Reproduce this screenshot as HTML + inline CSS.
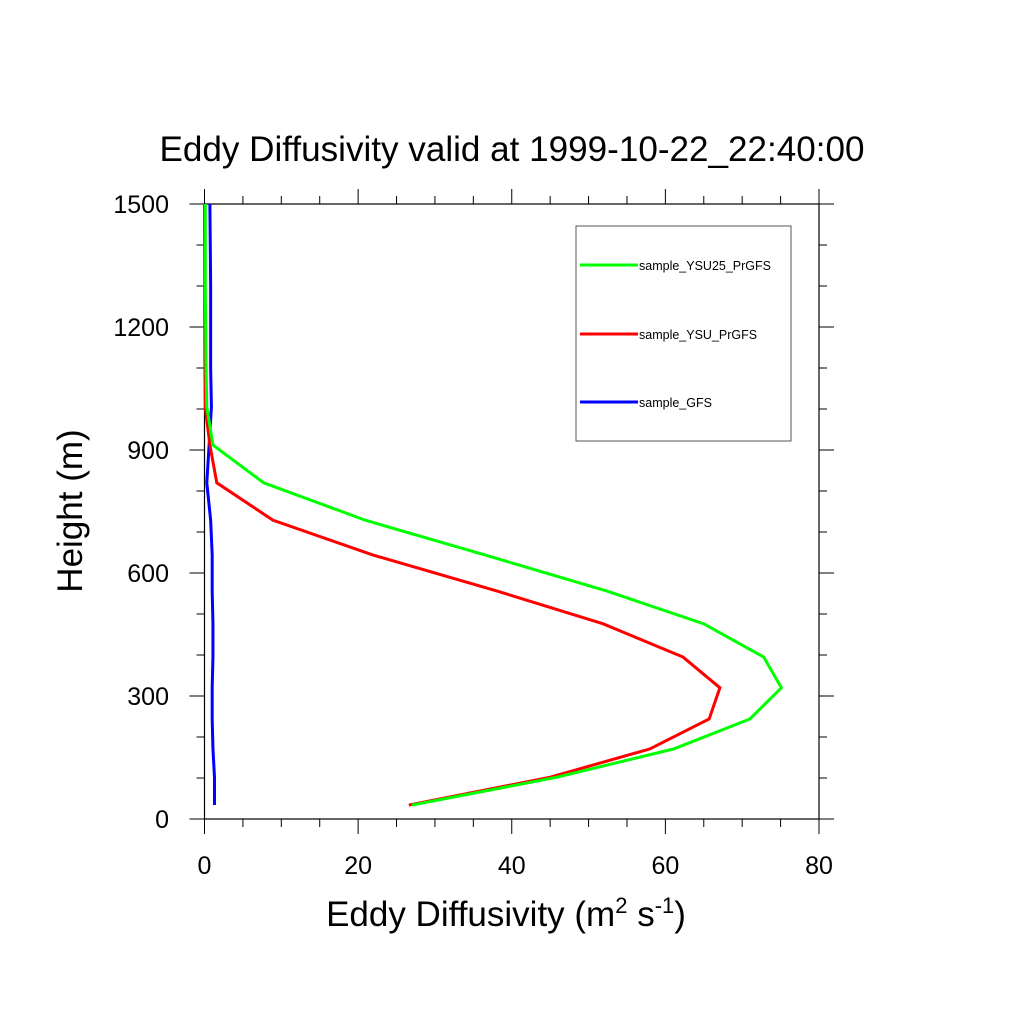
<!DOCTYPE html>
<html><head><meta charset="utf-8"><style>body{margin:0;background:#fff}svg{display:block;font-family:"Liberation Sans",sans-serif}</style></head>
<body>
<svg id="chart" width="1024" height="1024" viewBox="0 0 1024 1024" xmlns="http://www.w3.org/2000/svg">
<text x="512" y="161" font-size="35" text-anchor="middle" textLength="705" lengthAdjust="spacingAndGlyphs">Eddy Diffusivity valid at 1999-10-22_22:40:00</text>
<g id="axes"></g>
<g id="series"></g>
<text x="506" y="926" font-size="35" text-anchor="middle">Eddy Diffusivity (m<tspan font-size="22" dy="-13">2</tspan><tspan dy="13"> s</tspan><tspan font-size="22" dy="-13">-1</tspan><tspan dy="13">)</tspan></text>
<text transform="translate(82,511) rotate(-90)" font-size="35" text-anchor="middle">Height (m)</text>
<g>
<rect x="576" y="226" width="215" height="215" fill="#fff" stroke="#555" stroke-width="1"/>
<g><line x1="580" y1="265" x2="638" y2="265" stroke="#00ff00" stroke-width="3"/><text x="639" y="270" font-size="12.5">sample_YSU25_PrGFS</text></g>
<g><line x1="580" y1="334" x2="638" y2="334" stroke="#ff0000" stroke-width="3"/><text x="639" y="339" font-size="12.5">sample_YSU_PrGFS</text></g>
<g><line x1="580" y1="402" x2="638" y2="402" stroke="#0000ff" stroke-width="3"/><text x="639" y="407" font-size="12.5">sample_GFS</text></g>
</g>
</svg>
<script>
const heights = [34,102,171,244,320,395,476,556,644,729,820,912,1005,1100,1200,1300,1400,1500];
const ysu25 = [27.0,45.9,61.1,71.0,75.1,72.8,65.0,52.4,36.5,20.9,7.7,1.1,0.3,0.2,0.15,0.1,0.1,0.1];
const ysu = [26.6,45.0,58.0,65.7,67.1,62.3,51.9,38.1,21.9,8.9,1.6,0.7,0.1,0.05,0.03,0.02,0.01,0.0];
const gfs = [1.3,1.3,1.1,1.0,1.0,1.1,1.1,1.0,1.0,0.8,0.3,0.6,0.9,0.8,0.8,0.8,0.75,0.7];
const xTicks = [0,20,40,60,80];
const yTicks = [0,300,600,900,1200,1500];
const NS="http://www.w3.org/2000/svg";
const X0=204.5,X1=819,Y0=819,Y1=204;
const sx=v=>X0+(v/80)*(X1-X0);
const sy=v=>Y0-(v/1500)*(Y0-Y1);
const axes=document.getElementById('axes'),series=document.getElementById('series');
function mk(tag,attrs,parent){const e=document.createElementNS(NS,tag);for(const k in attrs)e.setAttribute(k,attrs[k]);parent.appendChild(e);return e;}
const frame=mk('rect',{x:X0,y:Y1,width:X1-X0,height:Y0-Y1,fill:'none',stroke:'#000','stroke-width':1.2},axes);


for(let v=0;v<=80;v+=5){const x=sx(v);const L=v%20===0?15:8;
 const t1=mk('line',{x1:x,y1:Y0,x2:x,y2:Y0+L,stroke:'#000','stroke-width':1},axes);
 
 
 const t2=mk('line',{x1:x,y1:Y1,x2:x,y2:Y1-L,stroke:'#000','stroke-width':1},axes);
 
 }
for(let v=0;v<=1500;v+=100){const y=sy(v);const L=v%300===0?15:8;
 const t1=mk('line',{x1:X0,y1:y,x2:X0-L,y2:y,stroke:'#000','stroke-width':1},axes);
 
 
 const t2=mk('line',{x1:X1,y1:y,x2:X1+L,y2:y,stroke:'#000','stroke-width':1},axes);
 
 }
xTicks.forEach(v=>{const t=mk('text',{x:sx(v),y:874,'font-size':25,'text-anchor':'middle'},axes);t.textContent=v;
 
 });
yTicks.forEach(v=>{const t=mk('text',{x:169,y:sy(v)+9,'font-size':25,'text-anchor':'end'},axes);t.textContent=v;
 
 });
function line(vals,color,name){const pts=vals.map((v,i)=>sx(v)+','+sy(heights[i])).join(' ');
 const p=mk('polyline',{points:pts,fill:'none',stroke:color,'stroke-width':3,'stroke-linejoin':'miter'},series);
 
 }
line(gfs,'#0000ff','line-gfs');
line(ysu,'#ff0000','line-ysu-prgfs');
line(ysu25,'#00ff00','line-ysu25-prgfs');
</script>
</body></html>
